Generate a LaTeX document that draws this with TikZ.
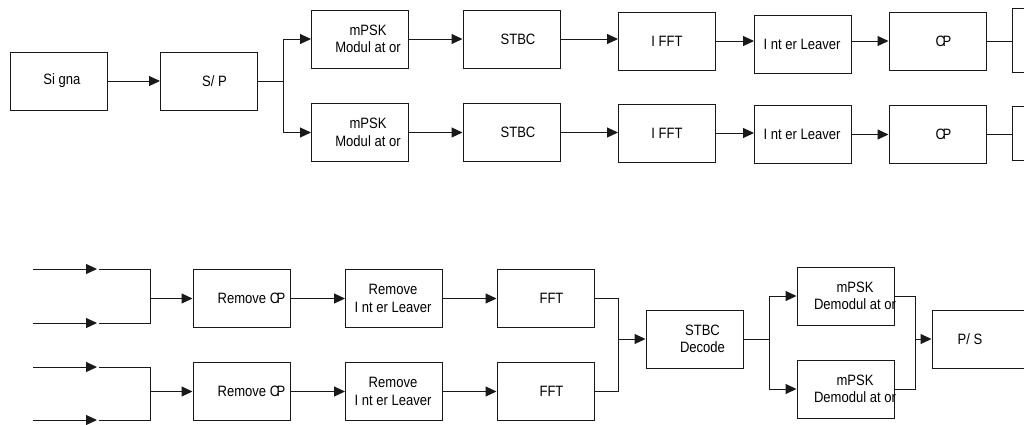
\documentclass[tikz,border=0pt]{standalone}
\usepackage{fontspec}
\setmainfont{Liberation Sans}
\newfontfamily\blockfamily[FakeStretch=0.87]{Liberation Sans}
\usetikzlibrary{arrows.meta}
\newcommand\blocktext{\blockfamily\fontsize{15}{17.5}\selectfont}
\begin{document}
\begin{tikzpicture}[x=1pt,y=-1pt,
  box/.style={draw=black!90,line width=1pt,minimum width=97pt,minimum height=58pt,inner sep=0pt},
  lab/.style 2 args={label={[xshift=#1,align=center,font=\blocktext,inner sep=0pt]center:{#2}}},
  wire/.style={draw=black!90,line width=1pt},
  arr/.style={wire,-{Triangle[length=11pt,width=10pt]}}]
\clip (0,0) rectangle (1024,424);
\fill[white] (0,0) rectangle (1024,424);

% ---------------- transmitter ----------------
\node[box,lab={3.5pt}{Si gna}] (sig) at (58.5,81) {};
\node[box,lab={5.5pt}{S/ P}] (sp) at (209,81) {};
\node[box,lab={8pt}{mPSK\\Modul at or}] (mod1) at (360,39) {};
\node[box,lab={8pt}{mPSK\\Modul at or}] (mod2) at (360,132.5) {};
\node[box,lab={6.5pt}{STBC}] (stbc1) at (511.5,39) {};
\node[box,lab={6.5pt}{STBC}] (stbc2) at (511.5,132.5) {};
\node[box,lab={0pt}{I FFT}] (ifft1) at (667,41) {};
\node[box,lab={0pt}{I FFT}] (ifft2) at (667,133) {};
\node[box,lab={-1pt}{I nt er Leaver}] (il1) at (803,44) {};
\node[box,lab={-1pt}{I nt er Leaver}] (il2) at (803,134.5) {};
\node[box,lab={6pt}{C\kern-2.5pt P}] (cp1) at (937.5,41) {};
\node[box,lab={6pt}{C\kern-2.5pt P}] (cp2) at (937.5,134.5) {};
\node[box,minimum width=36pt,minimum height=64pt] (out1) at (1030,40) {};
\node[box,minimum width=36pt,minimum height=54pt] (out2) at (1030,133) {};

\draw[arr] (sig) -- (sp);
\coordinate (split) at (283,81);
\draw[wire] (sp.east) -- (split);
\draw[arr] (split) |- (mod1.west);
\draw[arr] (split) |- (mod2.west);
\draw[arr] (mod1) -- (stbc1);
\draw[arr] (mod2) -- (stbc2);
\draw[arr] (stbc1.east) -- (ifft1.west |- stbc1.east);
\draw[arr] (stbc2.east) -- (ifft2.west |- stbc2.east);
\draw[arr] (ifft1.east) -- (il1.west |- ifft1.east);
\draw[arr] (ifft2.east) -- (il2.west |- ifft2.east);
\draw[arr] (il1.east |- cp1.west) -- (cp1.west);
\draw[arr] (il2.east) -- (cp2.west |- il2.east);
\draw[wire] (cp1.east) -- (out1.west |- cp1.east);
\draw[wire] (cp2.east) -- (out2.west |- cp2.east);

% ---------------- receiver ----------------
\node[box,lab={10pt}{Remove C\kern-2.5pt P}] (rcp1) at (241.5,298.5) {};
\node[box,lab={10pt}{Remove C\kern-2.5pt P}] (rcp2) at (241.5,391.5) {};
\node[box,lab={-1pt}{Remove\\I nt er Leaver}] (ril1) at (394,298.5) {};
\node[box,lab={-1pt}{Remove\\I nt er Leaver}] (ril2) at (394,391.5) {};
\node[box,lab={6pt}{FFT}] (fft1) at (545.5,298.5) {};
\node[box,lab={6pt}{FFT}] (fft2) at (545.5,391.5) {};
\node[box,lab={8pt}{STBC\\Decode}] (dec) at (694.5,339) {};
\node[box,lab={9.5pt}{mPSK\\Demodul at or}] (dem1) at (845.5,296) {};
\node[box,lab={9.5pt}{mPSK\\Demodul at or}] (dem2) at (845.5,389) {};
\node[box,minimum width=108pt,lab={-16pt}{P/ S}] (ps) at (986,339) {};

% antenna inputs
\coordinate (a1) at (33,269);  \coordinate (b1) at (97,269);  \coordinate (c1) at (99,269);
\coordinate (a2) at (33,323);  \coordinate (b2) at (97,323);  \coordinate (c2) at (99,323);
\coordinate (a3) at (33,367);  \coordinate (b3) at (97,367);  \coordinate (c3) at (99,367);
\coordinate (a4) at (33,420);  \coordinate (b4) at (97,420);  \coordinate (c4) at (99,420);
\coordinate (m1) at (150,298.5);
\coordinate (m2) at (150,391.5);
\foreach \i in {1,2,3,4} \draw[arr] (a\i) -- (b\i);
\draw[wire] (c1) -| (m1);
\draw[wire] (c2) -| (m1);
\draw[wire] (c3) -| (m2);
\draw[wire] (c4) -| (m2);
\draw[arr] (m1) -- (rcp1);
\draw[arr] (m2) -- (rcp2);

\draw[arr] (rcp1) -- (ril1);
\draw[arr] (rcp2) -- (ril2);
\draw[arr] (ril1) -- (fft1);
\draw[arr] (ril2) -- (fft2);

\coordinate (fj) at (618,339);
\draw[wire] (fft1.east) -| (fj);
\draw[wire] (fft2.east) -| (fj);
\draw[arr] (fj) -- (dec.west);

\coordinate (dj) at (769,339);
\draw[wire] (dec.east) -- (dj);
\draw[arr] (dj) |- (dem1.west);
\draw[arr] (dj) |- (dem2.west);

\coordinate (pj) at (915,339);
\draw[wire] (dem1.east) -| (pj);
\draw[wire] (dem2.east) -| (pj);
\draw[arr] (pj) -- (ps.west);
\end{tikzpicture}
\end{document}
